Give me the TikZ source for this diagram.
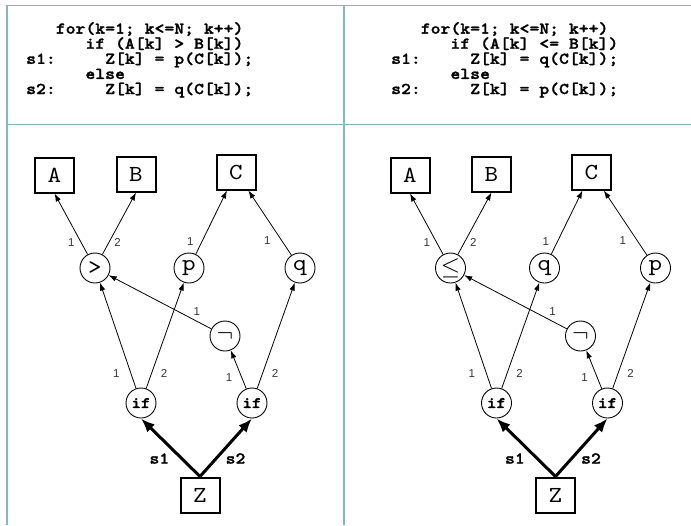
\documentclass[tikz,border=0pt]{standalone}
\usepackage{fontspec}
\newfontfamily\numfont{Liberation Sans}
\newfontfamily\srcfont{lmmonolt10-bold.otf}[FakeStretch=1.14, FakeBold=1.6]
\newfontfamily\varfont{lmmono10-regular.otf}[FakeStretch=1.12]
\usetikzlibrary{arrows.meta}

\definecolor{gridcol}{RGB}{128,186,190}
\definecolor{numgray}{RGB}{55,55,55}

% indent by a number of typewriter columns
\newlength\colw
\newcommand\cols[1]{\settowidth\colw{0}\hspace*{#1\colw}}
\newcommand\codestyle{\srcfont\fontsize{16.5}{15.1}\selectfont\lineskiplimit=-40pt\relax}

\tikzset{
  var/.style={draw, line width=2pt, minimum width=39pt, minimum height=35pt, inner sep=0pt,
    font=\varfont\fontsize{23}{23}\selectfont},
  op/.style={draw, circle, line width=0.9pt, minimum size=30pt, inner sep=0pt,
    font=\varfont\fontsize{23}{23}\selectfont},
  ifop/.style={op, font=\srcfont\fontsize{16}{16}\selectfont},
  dep/.style={-{Latex[length=8pt,width=5.5pt]}, line width=0.8pt},
  ctrl/.style={-{Latex[length=14pt,width=11pt]}, line width=3pt},
  num/.style={font=\numfont\fontsize{11.5}{11.5}\selectfont, text=numgray, inner sep=0pt},
  lbl/.style={font=\srcfont\fontsize{16.5}{16.5}\selectfont, inner sep=0pt},
  code/.style={align=left, inner sep=0pt, anchor=north west, font=\codestyle},
}

\begin{document}
\begin{tikzpicture}[x=1pt, y=-1pt]
  \useasboundingbox (0,0) rectangle (691,525);
  % table rules
  \draw[gridcol, line width=1.6pt] (7,525) -- (7,5.5) -- (691,5.5)
    (7,124.5) -- (691,124.5) (344,5.5) -- (344,525);

  % source loops
  \node[code] (srcL) at (26,22) {%
    \cols3for(k=1; k<=N; k++)\\
    \cols6if (A[k] > B[k])\\
    s1:\cols5Z[k] = p(C[k]);\\
    \cols6else\\
    s2:\cols5Z[k] = q(C[k]);};
  \node[code] (srcR) at (391,22) {%
    \cols3for(k=1; k<=N; k++)\\
    \cols6if (A[k] <= B[k])\\
    s1:\cols5Z[k] = q(C[k]);\\
    \cols6else\\
    s2:\cols5Z[k] = p(C[k]);};

  % dependence graphs, one per version
  \foreach \s/\dx/\rel/\fa/\fb in {L/0/>/p/q, R/355.5/{$\leq$}/q/p} {
    \begin{scope}[xshift=\dx]
      \node[var] (A\s) at (54.5,175) {A};
      \node[var] (B\s) at (136,174) {B};
      \node[var] (C\s) at (236,172) {C};
      \node[op] (cmp\s) at (95,268) {\rel};
      \node[op] (f\s) at (189,268) {\fa};
      \node[op] (g\s) at (300,268) {\fb};
      \node[op] (not\s) at (225,336) {$\neg$};
      \node[ifop] (ifa\s) at (141,403) {if};
      \node[ifop] (ifb\s) at (252,403) {if};
      \node[var] (Z\s) at (200,495) {Z};

      \draw[dep] (cmp\s) -- (A\s.south) node[num, pos=0.2, left=6pt] {1};
      \draw[dep] (cmp\s) -- (B\s.south) node[num, pos=0.2, right=5pt] {2};
      \draw[dep] (f\s) -- (C\s) node[num, pos=0.2, left=8pt] {1};
      \draw[dep] (g\s) -- (C\s) node[num, pos=0.22, left=11pt] {1};
      \draw[dep] (not\s) -- (cmp\s) node[num, pos=0.14, above=5pt] {1};
      \draw[dep] (ifa\s) -- (cmp\s) node[num, pos=0.14, left=11pt] {1};
      \draw[dep] (ifa\s) -- (f\s) node[num, pos=0.14, right=9pt] {2};
      \draw[dep] (ifb\s) -- (not\s) node[num, pos=0.3, left=9pt] {1};
      \draw[dep] (ifb\s) -- (g\s) node[num, pos=0.14, right=9pt] {2};

      \draw[ctrl] (Z\s.north) -- (ifa\s.south) node[lbl, pos=0.31, left=11pt] {s1};
      \draw[ctrl] (Z\s.north) -- (ifb\s.south) node[lbl, pos=0.31, right=8pt] {s2};
    \end{scope}
  }
\end{tikzpicture}
\end{document}
